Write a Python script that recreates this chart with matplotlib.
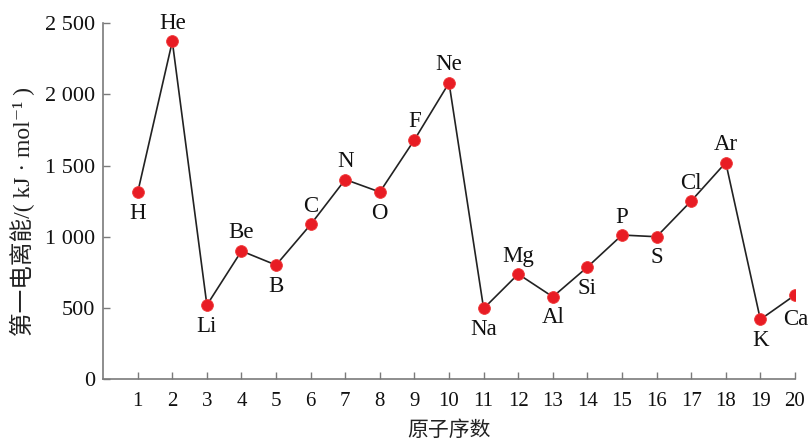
import matplotlib
matplotlib.use("Agg")
import matplotlib.pyplot as plt

# first ionization energies, kJ/mol
atomic_numbers = list(range(1, 21))
elements = ['H', 'He', 'Li', 'Be', 'B', 'C', 'N', 'O', 'F', 'Ne',
            'Na', 'Mg', 'Al', 'Si', 'P', 'S', 'Cl', 'Ar', 'K', 'Ca']
energies = [1312, 2372, 520, 900, 801, 1086, 1402, 1314, 1681, 2081,
            496, 738, 578, 787, 1012, 1000, 1251, 1521, 419, 590]
# where each element's label sits relative to its point
label_side = ['below', 'above', 'below', 'above', 'below', 'above', 'above', 'below', 'above', 'above',
              'below', 'above', 'below', 'below', 'above', 'below', 'above', 'above', 'below', 'below']
y_ticks = [0, 500, 1000, 1500, 2000, 2500]
y_tick_labels = ['0', '500', '1 000', '1 500', '2 000', '2 500']

fonts = ['Liberation Serif', 'Noto Sans CJK SC', 'DejaVu Serif']
plt.rcParams['font.family'] = fonts

fig = plt.figure(figsize=(8.12, 4.46), dpi=100)
ax = fig.add_axes([0.127, 0.150, 0.852, 0.798])

ax.plot(atomic_numbers, energies, color='#222222', lw=1.2, zorder=2)
ax.plot(atomic_numbers, energies, 'o', color='#e81c24', ms=8.5,
        markeredgecolor='#f03a3a', markeredgewidth=0.6, zorder=3)

offsets = {'above': (0, 18), 'below': (0, -21)}
for x, y, name, side in zip(atomic_numbers, energies, elements, label_side):
    dx, dy = offsets[side]
    if name == 'Ca':
        dx, dy = 1, -24
    ax.annotate(name, (x, y), xytext=(dx, dy), textcoords='offset pixels',
                ha='center', va='center', fontsize=16.5, color='#111111')

ax.set_xlim(0, 20)
ax.set_ylim(0, 2500)
ax.set_xticks(atomic_numbers)
ax.set_yticks(y_ticks)
ax.set_yticklabels(y_tick_labels)

for s in ['top', 'right']:
    ax.spines[s].set_visible(False)
for s in ['left', 'bottom']:
    ax.spines[s].set_color('#7a7a7a')
    ax.spines[s].set_linewidth(1.2)

ax.tick_params(axis='both', direction='in', length=5, width=1, color='#7a7a7a',
               labelcolor='#111111')
ax.tick_params(axis='x', pad=9, labelsize=15)
ax.tick_params(axis='y', pad=6, labelsize=16)

ax.set_xlabel('原子序数', fontsize=15, color='#222222', labelpad=8)
ax.set_ylabel('第一电离能/( kJ · mol⁻¹ )', fontsize=17, color='#222222')
ax.yaxis.set_label_coords(-0.098, 0.47)

fig.savefig('out.png', dpi=100)
